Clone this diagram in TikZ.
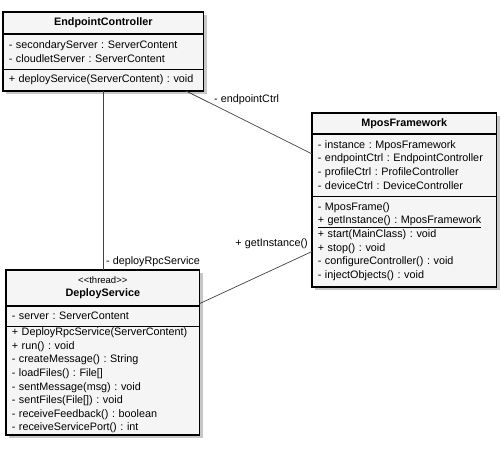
\documentclass[tikz,border=0pt]{standalone}
\usepackage{fontspec}
\setmainfont{Liberation Sans}
\frenchspacing
\usetikzlibrary{positioning,fit,backgrounds,shadows}

\tikzset{
  part/.style={draw=black, line width=0.6pt, inner xsep=5.5pt, inner ysep=1pt,
    align=left, anchor=north west, font=\fontsize{10.8}{13.6}\selectfont},
  head/.style={part, align=center},
  frame/.style={draw=black, line width=1.6pt, fill=black!4, inner sep=0pt,
    drop shadow={shadow xshift=3pt, shadow yshift=-3pt, fill=black!22, opacity=1}},
  role/.style={font=\fontsize{10.8}{13}\selectfont, inner sep=1pt},
  assoc/.style={draw=black!75, line width=0.7pt}
}

\begin{document}
\begin{tikzpicture}[x=1pt,y=-1pt]
\useasboundingbox (0,0) rectangle (501,453);

% EndpointController
\node[head, text width=189pt, minimum height=21pt] (epcH) at (3,12) {\textbf{EndpointController}};
\node[part, text width=189pt, minimum height=35pt, below=0pt of epcH] (epcA) {- secondaryServer : ServerContent\\- cloudletServer : ServerContent};
\node[part, text width=189pt, minimum height=21pt, below=0pt of epcA] (epcM) {+ deployService(ServerContent) : void};

% MposFramework
\node[head, text width=173pt, minimum height=20pt] (mposH) at (312,113) {\textbf{MposFramework}};
\node[part, text width=173pt, minimum height=62pt, below=0pt of mposH] (mposA) {- instance : MposFramework\\- endpointCtrl : EndpointController\\- profileCtrl : ProfileController\\- deviceCtrl : DeviceController};
\node[part, text width=173pt, minimum height=90pt, below=0pt of mposA] (mposM) {- MposFrame()\\\underline{+ getInstance() : MposFramework}\\+ start(MainClass) : void\\+ stop() : void\\- configureController() : void\\- injectObjects() : void};

% DeployService (thread)
\node[head, text width=182pt, minimum height=35pt, font=\fontsize{10.8}{13}\selectfont] (depH) at (6,270) {{\fontsize{9.5}{13}\selectfont <{}<thread>{}>}\\\textbf{DeployService}};
\node[part, text width=182pt, minimum height=20pt, below=0pt of depH] (depA) {- server : ServerContent};
\node[part, text width=182pt, minimum height=108pt, below=0pt of depA] (depM) {+ DeployRpcService(ServerContent)\\+ run() : void\\- createMessage() : String\\- loadFiles() : File[]\\- sentMessage(msg) : void\\- sentFiles(File[]) : void\\- receiveFeedback() : boolean\\- receiveServicePort() : int};

% class frames with shadow
\begin{scope}[on background layer]
\node[frame, fit=(epcH)(epcM)] (epc) {};
\node[frame, fit=(mposH)(mposM)] (mpos) {};
\node[frame, fit=(depH)(depM)] (dep) {};
\end{scope}

% associations
\draw[assoc] ([xshift=100pt]epcM.south west) -- ([xshift=97pt]depH.north west);
\draw[assoc] ([xshift=-18pt]epcM.south east) -- ([yshift=11pt]mposA.west);
\draw[assoc] ([yshift=2pt]depH.south east) -- ([yshift=-10pt]mposM.west);

% role names
\node[role, anchor=west] (rDeploy) at (105,262) {- deployRpcService};
\node[role, anchor=west] (rEndpoint) at (213,100) {- endpointCtrl};
\node[role, anchor=east] (rInstance) at (309,244) {+ getInstance()};

\end{tikzpicture}
\end{document}
